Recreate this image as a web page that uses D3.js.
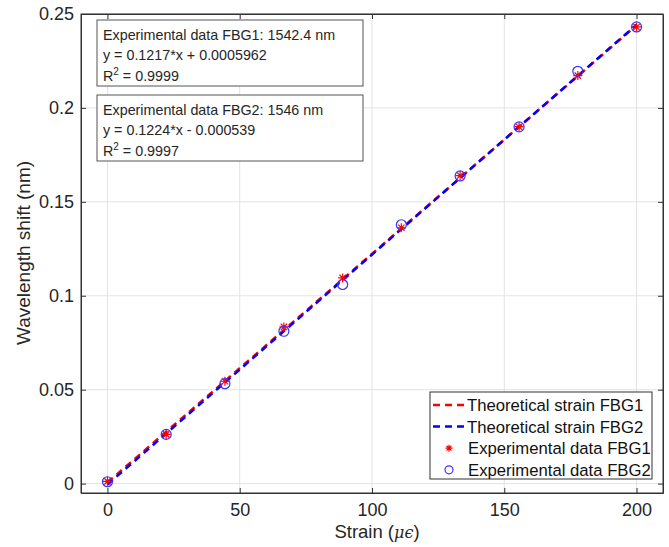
<!DOCTYPE html>
<html>
<head>
<meta charset="utf-8">
<script src="https://d3js.org/d3.v7.min.js"></script>
<style>
body { margin: 0; background: #fff; font-family: 'Liberation Sans', Arial, sans-serif; }
svg { display: block; }
</style>
</head>
<body>
<svg width="669" height="547"></svg>
<script>
// data
var strain = [0, 22.2, 44.4, 66.7, 88.9, 111.1, 133.3, 155.6, 177.8, 200];
var fbg1 = [0.0012, 0.0262, 0.0545, 0.0834, 0.1095, 0.1362, 0.1640, 0.1900, 0.2172, 0.2431];
var fbg2 = [0.0010, 0.0262, 0.0532, 0.0811, 0.1060, 0.1378, 0.1638, 0.1899, 0.2195, 0.2431];
var theoX = [0, 200];
var theo1 = [0.0006, 0.2440];
var theo2 = [-0.0005, 0.2443];
var xTicks = [0, 50, 100, 150, 200];
var yTicks = [0, 0.05, 0.1, 0.15, 0.2, 0.25];
var box1 = ["Experimental data FBG1: 1542.4 nm", "y = 0.1217*x + 0.0005962", "0.9999"];
var box2 = ["Experimental data FBG2: 1546 nm", "y = 0.1224*x - 0.000539", "0.9997"];
var legendLabels = ["Theoretical strain FBG1", "Theoretical strain FBG2", "Experimental data FBG1", "Experimental data FBG2"];

var svg = d3.select("svg");
var m = {left: 81, top: 14, right: 6, bottom: 54};
var W = 669 - m.left - m.right, H = 547 - m.top - m.bottom;

var x = d3.scaleLinear().domain([-10, 210]).range([m.left, m.left + W]);
var y = d3.scaleLinear().domain([-0.005, 0.25]).range([m.top + H, m.top]);

// grid
svg.append("g").selectAll("line").data(xTicks).enter().append("line")
  .attr("x1", d => x(d)).attr("x2", d => x(d))
  .attr("y1", m.top).attr("y2", m.top + H)
  .attr("stroke", "#e3e3e3").attr("stroke-width", 1);
svg.append("g").selectAll("line").data(yTicks).enter().append("line")
  .attr("y1", d => y(d)).attr("y2", d => y(d))
  .attr("x1", m.left).attr("x2", m.left + W)
  .attr("stroke", "#e3e3e3").attr("stroke-width", 1);

// axes (ticks inward, box on)
var axCol = "#333";
var fmt = d => d3.format("~g")(d);
var gx = svg.append("g").attr("transform", "translate(0," + (m.top + H) + ")")
  .call(d3.axisBottom(x).tickValues(xTicks).tickFormat(fmt).tickSizeInner(-5).tickSizeOuter(0).tickPadding(10));
var gxt = svg.append("g").attr("transform", "translate(0," + m.top + ")")
  .call(d3.axisTop(x).tickValues(xTicks).tickFormat("").tickSizeInner(-5).tickSizeOuter(0));
var gy = svg.append("g").attr("transform", "translate(" + m.left + ",0)")
  .call(d3.axisLeft(y).tickValues(yTicks).tickFormat(fmt).tickSizeInner(-5).tickSizeOuter(0).tickPadding(7));
var gyr = svg.append("g").attr("transform", "translate(" + (m.left + W) + ",0)")
  .call(d3.axisRight(y).tickValues(yTicks).tickFormat("").tickSizeInner(-5).tickSizeOuter(0));
[gx, gxt, gy, gyr].forEach(function(g) {
  g.select(".domain").attr("stroke", axCol);
  g.selectAll(".tick line").attr("stroke", axCol);
  g.selectAll("text").attr("fill", "#262626").attr("font-size", "18px")
    .attr("font-family", "'Liberation Sans', Arial, sans-serif");
});
svg.append("rect").attr("x", m.left).attr("y", m.top).attr("width", W).attr("height", H)
  .attr("fill", "none").attr("stroke", axCol).attr("stroke-width", 1);

// theoretical lines
var line = d3.line().x(d => x(d[0])).y(d => y(d[1]));
svg.append("path").datum(d3.zip(theoX, theo1)).attr("d", line)
  .attr("fill", "none").attr("stroke", "#ff0000").attr("stroke-width", 2.5).attr("stroke-dasharray", "7,5");
svg.append("path").datum(d3.zip(theoX, theo2)).attr("d", line)
  .attr("fill", "none").attr("stroke", "#0000ff").attr("stroke-width", 2.5).attr("stroke-dasharray", "7,5");

// star marker
function star(g, cx, cy, s) {
  var p = "M" + (cx - s) + "," + cy + "L" + (cx + s) + "," + cy +
    "M" + cx + "," + (cy - s) + "L" + cx + "," + (cy + s) +
    "M" + (cx - s * 0.7) + "," + (cy - s * 0.7) + "L" + (cx + s * 0.7) + "," + (cy + s * 0.7) +
    "M" + (cx - s * 0.7) + "," + (cy + s * 0.7) + "L" + (cx + s * 0.7) + "," + (cy - s * 0.7);
  g.append("path").attr("d", p).attr("stroke", "#ff0000").attr("stroke-width", 1.2).attr("fill", "none");
}
var stars = svg.append("g");
strain.forEach(function(s, i) { star(stars, x(s), y(fbg1[i]), 4.5); });
svg.append("g").selectAll("circle").data(d3.zip(strain, fbg2)).enter().append("circle")
  .attr("cx", d => x(d[0])).attr("cy", d => y(d[1])).attr("r", 5)
  .attr("fill", "none").attr("stroke", "#3333ff").attr("stroke-width", 1.2);

// text boxes
function textBox(ty, lines) {
  var g = svg.append("g");
  g.append("rect").attr("x", 97).attr("y", ty).attr("width", 266).attr("height", 66)
    .attr("fill", "#fff").attr("stroke", "#555").attr("stroke-width", 1);
  var t = g.append("g").attr("font-size", "14.3px").attr("fill", "#262626");
  t.append("text").attr("x", 103).attr("y", ty + 20).text(lines[0]);
  t.append("text").attr("x", 103).attr("y", ty + 40).text(lines[1]);
  var r = t.append("text").attr("x", 103).attr("y", ty + 61);
  r.append("tspan").text("R");
  r.append("tspan").attr("dy", -6).attr("font-size", "10px").text("2");
  r.append("tspan").attr("dy", 6).text(" = " + lines[2]);
}
textBox(20, box1);
textBox(95, box2);

// legend
var lg = svg.append("g");
lg.append("rect").attr("x", 430).attr("y", 392).attr("width", 222).attr("height", 87)
  .attr("fill", "#fff").attr("stroke", "#333").attr("stroke-width", 1);
legendLabels.forEach(function(l, i) {
  var cy = 405 + i * 21.6;
  if (i < 2) {
    lg.append("line").attr("x1", 433).attr("x2", 464).attr("y1", cy).attr("y2", cy)
      .attr("stroke", i == 0 ? "#ff0000" : "#0000ff").attr("stroke-width", 2.5).attr("stroke-dasharray", "7,5");
  } else if (i == 2) {
    star(lg, 449, cy, 3.5);
  } else {
    lg.append("circle").attr("cx", 449).attr("cy", cy).attr("r", 4)
      .attr("fill", "none").attr("stroke", "#3333ff").attr("stroke-width", 1.2);
  }
  lg.append("text").attr("x", i < 2 ? 467 : 468).attr("y", cy + 6).attr("font-size", "16.7px")
    .attr("fill", "#111").text(l);
});

// axis labels
var xl = svg.append("text").attr("x", 377).attr("y", 538).attr("text-anchor", "middle")
  .attr("font-size", "18.5px").attr("fill", "#262626");
xl.append("tspan").text("Strain (");
xl.append("tspan").attr("font-family", "'DejaVu Serif', serif").attr("font-style", "italic").attr("font-size", "16px").text("μϵ");
xl.append("tspan").text(")");
svg.append("text").attr("transform", "translate(30,253) rotate(-90)").attr("text-anchor", "middle")
  .attr("font-size", "19px").attr("fill", "#262626").text("Wavelength shift (nm)");
</script>
</body>
</html>
